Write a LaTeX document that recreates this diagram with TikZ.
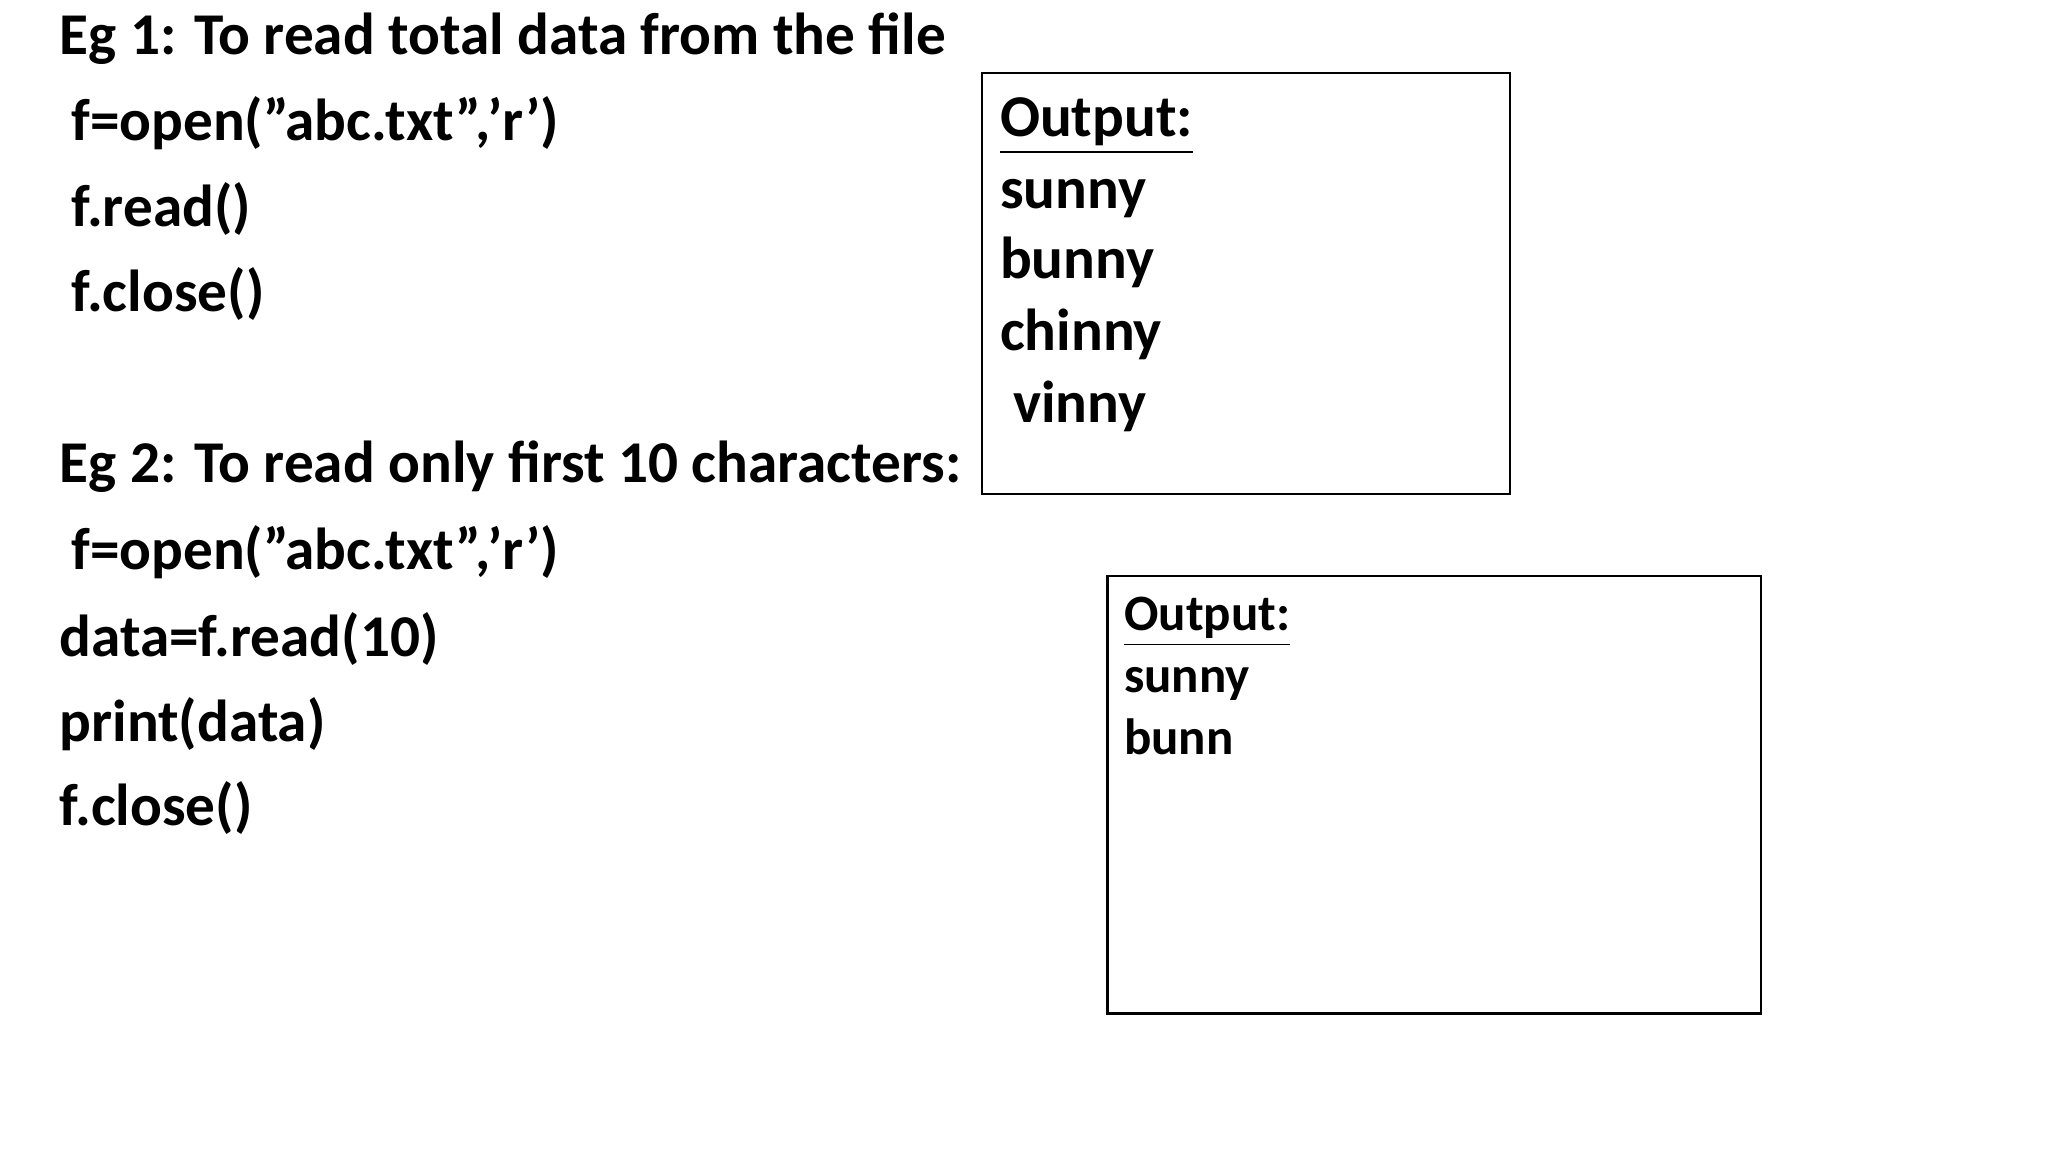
\documentclass[tikz,border=0pt]{standalone}
\usepackage{fontspec}
\setmainfont{Carlito}
\newcommand{\dq}{\char34\relax}
\newcommand{\sq}{\char39\relax}
\begin{document}
\begin{tikzpicture}[x=0.01cm,y=-0.01cm,
  big/.style={anchor=mid west,inner sep=0pt,font=\bfseries\fontsize{12.9}{15}\selectfont},
  small/.style={anchor=mid west,inner sep=0pt,font=\bfseries\fontsize{11.1}{13}\selectfont},
  outbox/.style={draw,line width=0.5pt}]
\useasboundingbox (0,0) rectangle (1568,882);
\node[big] (e1) at (45,33) {Eg 1: To read total data from the file};
\node[big] (a1) at (54,99) {f=open(\dq abc.txt\dq,\sq r\sq)};
\node[big] (a2) at (54,165) {f.read()};
\node[big] (a3) at (54,230) {f.close()};
\node[big] (e2) at (45,361) {Eg 2: To read only first 10 characters:};
\node[big] (b1) at (54,428) {f=open(\dq abc.txt\dq,\sq r\sq)};
\node[big] (b2) at (45,494) {data=f.read(10)};
\node[big] (b3) at (45,559) {print(data)};
\node[big] (b4) at (45,624) {f.close()};
\draw[outbox] (752,56) rectangle (1156,378);
\node[big] (o1) at (765,96) {\underline{Output:}};
\node[big] (o2) at (765,151) {sunny};
\node[big] (o3) at (765,205) {bunny};
\node[big] (o4) at (765,260) {chinny};
\node[big] (o5) at (775,315) {vinny};
\draw[outbox] (848,441) rectangle (1348,776);
\node[small] (p1) at (860,474) {\underline{Output:}};
\node[small] (p2) at (860,522) {sunny};
\node[small] (p3) at (860,569) {bunn};
\end{tikzpicture}
\end{document}
